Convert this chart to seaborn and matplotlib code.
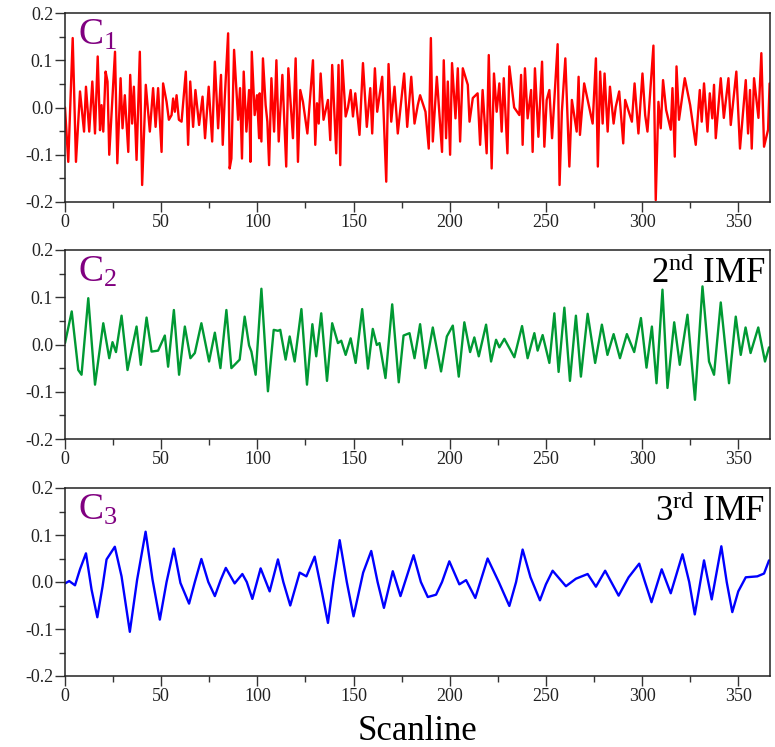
import matplotlib
matplotlib.use("Agg")
import matplotlib.pyplot as plt
import seaborn as sns
import pandas as pd
from matplotlib.ticker import MultipleLocator, FormatStrFormatter

# ---------------- data ----------------
c1_x = [0, 1.7, 4.0, 5.7, 7.8, 9.9, 10.9, 12.6, 14.2, 15.6, 17.0, 18.2, 19.0, 19.9, 21.1, 22.1, 23.0,
        26.0, 27.2, 28.9, 29.9, 31.1, 32.9, 33.9, 34.9, 35.8, 37.2, 38.9, 40.1, 42.0, 44.1, 45.8, 47.1,
        48.4, 50.2, 51.0, 52.8, 54.0, 55.4, 56.2, 57.1, 58.0, 59.2, 60.6, 62.8, 64.0, 65.1, 66.6, 67.8,
        69.7, 71.5, 72.8, 74.7, 76.5, 77.9, 79.6, 81.1, 82.0, 83.0, 84.8, 85.6, 86.5, 87.9, 90.0, 91.0,
        92.0, 92.9, 94.3, 95.7, 96.4, 97.1, 98.6, 99.8, 100.9, 101.2, 102.1, 102.9, 104.3, 105.2, 106.1,
        107.3, 108.7, 109.9, 111.1, 113.0, 115.0, 116.1, 118.5, 119.9, 121.1, 122.3, 123.7, 126.0,
        128.9, 130.1, 131.0, 131.9, 132.9, 134.4, 136.7, 137.9, 138.9, 141.0, 142.2, 143.1, 144.1,
        145.9, 147.1, 148.5, 149.7, 150.9, 153.1, 154.9, 156.9, 158.7, 159.7, 161.1, 162.3, 164.9,
        167.0, 168.2, 169.6, 171.3, 173.0, 176.3, 177.9, 180.0, 181.7, 183.4, 184.6, 187.4, 189.1,
        190.2, 191.2, 193.3, 196.0, 196.9, 198.1, 199.0, 200.2, 201.2, 203.0, 204.2, 205.4, 206.8,
        209.4, 210.3, 212.0, 214.5, 215.8, 217.1, 219.2, 220.3, 221.8, 223.0, 224.4, 225.8, 227.0,
        228.1, 230.0, 231.0, 233.5, 236.2, 237.1, 237.9, 239.1, 240.5, 242.3, 243.1, 244.3, 246.1,
        248.0, 249.2, 250.4, 251.8, 253.2, 256.1, 257.1, 258.3, 260.1, 262.2, 263.5, 266.0, 267.0,
        267.7, 269.9, 274.3, 276.0, 277.0, 278.2, 279.5, 280.5, 282.1, 283.3, 285.2, 286.3, 288.1,
        290.2, 291.2, 294.7, 296.1, 298.1, 300.2, 301.6, 302.8, 305.9, 307.1, 308.5, 309.7, 310.9,
        312.5, 314.9, 315.8, 317.0, 317.9, 319.2, 322.2, 325.0, 327.9, 330.0, 331.0, 332.2, 334.0,
        335.2, 336.5, 337.4, 338.3, 340.9, 342.5, 344.9, 346.1, 349.0, 350.9, 353.9, 355.1, 356.1,
        357.0, 358.2, 360.5, 362.0, 363.4, 365.5, 366.3]
c1_y = [0.000, -0.115, 0.147, -0.115, 0.034, -0.051, 0.044, -0.051, 0.055, -0.055, 0.108, -0.048,
        0.005, -0.051, 0.076, 0.055, -0.100, 0.118, -0.118, 0.062, -0.044, 0.026, -0.094, 0.069,
        -0.034, 0.044, -0.111, 0.118, -0.164, 0.048, -0.051, 0.041, -0.041, 0.041, -0.094, 0.051,
        0.012, -0.026, -0.016, 0.019, -0.009, 0.026, -0.026, -0.030, 0.076, -0.079, 0.055, -0.041,
        0.037, -0.037, 0.023, -0.065, 0.044, -0.072, 0.097, -0.044, 0.069, -0.079, 0.016, 0.157,
        -0.129, -0.108, 0.122, -0.026, 0.041, -0.108, 0.076, -0.051, 0.037, -0.115, 0.118, -0.016,
        0.026, -0.065, 0.030, -0.072, 0.104, 0.005, -0.030, -0.122, 0.062, -0.051, 0.100, -0.072,
        0.069, -0.125, 0.083, -0.065, 0.104, -0.115, 0.037, 0.012, -0.055, 0.100, -0.079, 0.009,
        -0.034, 0.072, -0.026, 0.016, -0.069, 0.090, -0.097, 0.090, -0.122, 0.100, -0.019, 0.000,
        0.037, -0.019, 0.030, -0.058, 0.094, -0.041, 0.041, -0.055, 0.083, -0.009, 0.065, -0.157,
        0.092, -0.030, 0.044, -0.055, 0.072, -0.041, 0.065, -0.034, 0.005, 0.026, -0.009, -0.087,
        0.147, -0.072, 0.065, -0.094, 0.100, -0.065, 0.055, -0.100, 0.094, -0.023, 0.083, -0.072,
        0.083, 0.048, -0.030, 0.020, 0.030, -0.079, 0.037, -0.097, 0.111, -0.129, 0.072, -0.009,
        0.051, -0.051, 0.062, -0.097, 0.087, 0.000, -0.016, 0.069, -0.079, 0.083, -0.023, 0.037,
        -0.094, 0.083, -0.062, 0.097, -0.083, 0.016, 0.037, -0.065, 0.134, -0.164, -0.009, 0.104,
        -0.125, 0.016, -0.051, 0.065, -0.058, 0.051, -0.034, 0.104, -0.125, 0.076, -0.034, 0.072,
        -0.051, 0.044, -0.034, 0.001, 0.034, -0.076, 0.016, -0.030, 0.051, -0.055, 0.072, -0.016,
        -0.051, 0.131, -0.196, 0.012, -0.044, 0.058, -0.005, -0.047, 0.041, -0.104, 0.087, -0.026,
        0.062, 0.005, -0.079, 0.037, -0.030, 0.051, -0.051, 0.030, -0.023, 0.048, -0.065, 0.062,
        -0.022, 0.062, -0.037, 0.076, -0.087, 0.058, -0.055, 0.037, -0.087, 0.062, -0.022, 0.115,
        -0.083, -0.047, 0.051]

c2_x = [0, 3.5, 6.9, 8.6, 12.1, 15.6, 19.9, 23.0, 24.7, 26.5, 29.4, 32.5, 37.2, 39.4, 42.4, 45.0,
        48.4, 51.9, 53.6, 56.6, 59.3, 62.3, 65.2, 67.5, 70.9, 74.9, 77.9, 80.8, 83.9, 86.5, 90.8,
        93.4, 95.7, 96.9, 99.1, 102.1, 105.5, 108.5, 110.7, 111.9, 114.7, 116.8, 119.4, 122.9, 125.8,
        128.6, 130.6, 133.2, 136.2, 138.9, 141.9, 143.6, 145.9, 148.5, 151.1, 154.5, 157.5, 160.0,
        162.1, 163.5, 166.6, 170.1, 173.5, 176.0, 179.1, 181.7, 184.6, 187.4, 191.2, 195.5, 198.5,
        201.6, 204.7, 207.6, 210.6, 212.8, 215.1, 218.9, 221.5, 224.1, 225.8, 228.4, 233.6, 237.6,
        240.5, 244.0, 245.7, 248.3, 251.8, 254.4, 256.6, 259.6, 262.5, 265.6, 268.2, 271.7, 275.6,
        279.1, 282.0, 285.2, 288.5, 292.1, 295.9, 299.4, 302.3, 305.1, 307.5, 310.6, 313.2, 316.7,
        319.6, 323.6, 327.5, 331.4, 334.8, 337.4, 340.9, 345.2, 348.7, 351.3, 353.8, 356.4, 360.4,
        363.9, 366.0]
c2_y = [0.003, 0.070, -0.054, -0.064, 0.098, -0.085, 0.045, -0.029, 0.005, -0.016, 0.061, -0.054,
        0.038, -0.043, 0.057, -0.015, -0.013, 0.019, -0.047, 0.073, -0.064, 0.038, -0.029, -0.018,
        0.045, -0.036, 0.025, -0.050, 0.073, -0.050, -0.032, 0.059, -0.002, -0.015, -0.064, 0.118,
        -0.099, 0.031, 0.029, 0.031, -0.032, 0.017, -0.036, 0.075, -0.085, 0.043, -0.025, 0.066,
        -0.077, 0.045, 0.003, 0.008, -0.022, 0.013, -0.039, 0.075, -0.051, 0.033, -0.001, 0.003,
        -0.071, 0.085, -0.080, 0.019, 0.024, -0.029, 0.043, -0.050, 0.036, -0.057, 0.017, 0.040,
        -0.068, 0.047, -0.016, 0.015, -0.025, 0.042, -0.036, 0.010, -0.006, 0.012, -0.027, 0.039,
        -0.029, 0.024, -0.013, 0.020, -0.039, 0.066, -0.058, 0.078, -0.077, 0.061, -0.068, 0.065,
        -0.039, 0.042, -0.022, 0.022, -0.029, 0.022, -0.016, 0.056, -0.049, 0.038, -0.082, 0.116,
        -0.092, 0.047, -0.043, 0.063, -0.117, 0.123, -0.036, -0.064, 0.089, -0.082, 0.059, -0.022,
        0.036, -0.018, 0.036, -0.036, -0.006]

c3_x = [0, 2.2, 5.2, 7.8, 10.9, 13.8, 16.8, 19.5, 21.6, 25.9, 29.4, 33.7, 37.5, 41.9, 45.5, 49.3,
        52.8, 56.6, 60.0, 64.5, 67.5, 70.9, 74.5, 77.9, 81.0, 83.6, 88.2, 92.2, 94.5, 97.4, 101.7,
        106.4, 110.7, 113.5, 117.1, 122.0, 125.5, 129.8, 133.5, 136.7, 139.5, 142.8, 146.5, 150.0,
        155.0, 159.2, 162.5, 165.8, 170.4, 174.4, 181.2, 185.0, 188.6, 192.9, 196.0, 199.8, 205.0,
        208.5, 213.3, 219.7, 225.5, 231.0, 234.5, 237.9, 242.0, 246.9, 250.0, 253.5, 260.4, 265.6,
        271.7, 276.0, 280.8, 287.8, 293.0, 298.5, 301.5, 304.9, 310.2, 314.9, 321.0, 324.5, 327.4,
        332.2, 336.2, 341.2, 344.0, 346.9, 350.0, 353.9, 359.9, 363.4, 366.0]
c3_y = [-0.003, 0.002, -0.007, 0.027, 0.061, -0.016, -0.075, -0.010, 0.048, 0.075, 0.012, -0.106,
        0.005, 0.107, 0.005, -0.080, 0.000, 0.071, -0.002, -0.046, 0.000, 0.049, 0.000, -0.030,
        0.005, 0.030, -0.003, 0.017, 0.000, -0.036, 0.029, -0.020, 0.048, 0.000, -0.050, 0.020,
        0.012, 0.054, -0.020, -0.087, 0.000, 0.089, 0.000, -0.073, 0.020, 0.066, 0.000, -0.055,
        0.023, -0.030, 0.057, 0.000, -0.032, -0.027, 0.000, 0.044, -0.005, 0.004, -0.034, 0.050,
        0.000, -0.051, 0.000, 0.069, 0.010, -0.039, -0.005, 0.024, -0.009, 0.007, 0.017, -0.010,
        0.024, -0.029, 0.010, 0.039, 0.000, -0.043, 0.027, -0.024, 0.059, 0.000, -0.069, 0.046,
        -0.037, 0.076, 0.000, -0.064, -0.020, 0.010, 0.012, 0.018, 0.046]

x_ticks = [0, 50, 100, 150, 200, 250, 300, 350]
y_ticks = [-0.2, -0.1, 0.0, 0.1, 0.2]
panel_labels = ["1", "2", "3"]
imf_labels = [None, ("2", "nd"), ("3", "rd")]
colors = ["#ff0000", "#009933", "#0000ff"]
x_label = "Scanline"

# ---------------- styling ----------------
sns.set_style("ticks")
plt.rcParams["font.family"] = ["Liberation Serif", "DejaVu Serif"]
plt.rcParams["mathtext.fontset"] = "custom"
plt.rcParams["mathtext.rm"] = "Liberation Serif"
plt.rcParams["mathtext.it"] = "Liberation Serif"
plt.rcParams["axes.unicode_minus"] = False

fig = plt.figure(figsize=(7.75, 7.47), dpi=100)
W, H = 775, 747
left_px, right_px = 65, 770
panels_px = [(13, 202), (250, 439), (488, 676)]

series = [(c1_x, c1_y), (c2_x, c2_y), (c3_x, c3_y)]
for i, ((top, bot), (xs, ys)) in enumerate(zip(panels_px, series)):
    ax = fig.add_axes([left_px / W, 1 - bot / H, (right_px - left_px) / W, (bot - top) / H])
    df = pd.DataFrame({"x": xs, "y": ys})
    sns.lineplot(data=df, x="x", y="y", ax=ax, color=colors[i], lw=1.7, estimator=None)
    ax.set_xlim(0, 366.5)
    ax.set_ylim(-0.2, 0.2)
    ax.set_xticks(x_ticks)
    ax.set_yticks(y_ticks)
    ax.xaxis.set_minor_locator(MultipleLocator(25))
    ax.yaxis.set_minor_locator(MultipleLocator(0.05))
    ax.yaxis.set_major_formatter(FormatStrFormatter("%.1f"))
    ax.tick_params(which="major", length=7, width=1, color="#333333", labelsize=13,
                   labelcolor="#222222", pad=1.5)
    ax.tick_params(which="minor", length=4, width=1, color="#333333")
    ax.set_xlabel("")
    ax.set_ylabel("")
    for s in ax.spines.values():
        s.set_visible(True)
        s.set_linewidth(1.1)
        s.set_color("#222222")
    ax.text(0.018, 0.975, "C$_{\\mathregular{" + panel_labels[i] + "}}$", transform=ax.transAxes,
            ha="left", va="top", fontsize=27, color="#800080")
    if imf_labels[i] is not None:
        n, suf = imf_labels[i]
        ax.text(0.993, 0.965, n + "$^{\\mathregular{" + suf + "}}$ IMF", transform=ax.transAxes,
                ha="right", va="top", fontsize=25, color="black")

fig.text((left_px + right_px) / 2 / W, 1 - 732 / H, x_label, ha="center", va="center",
         fontsize=25, color="black")

fig.savefig("out.png", dpi=100)
